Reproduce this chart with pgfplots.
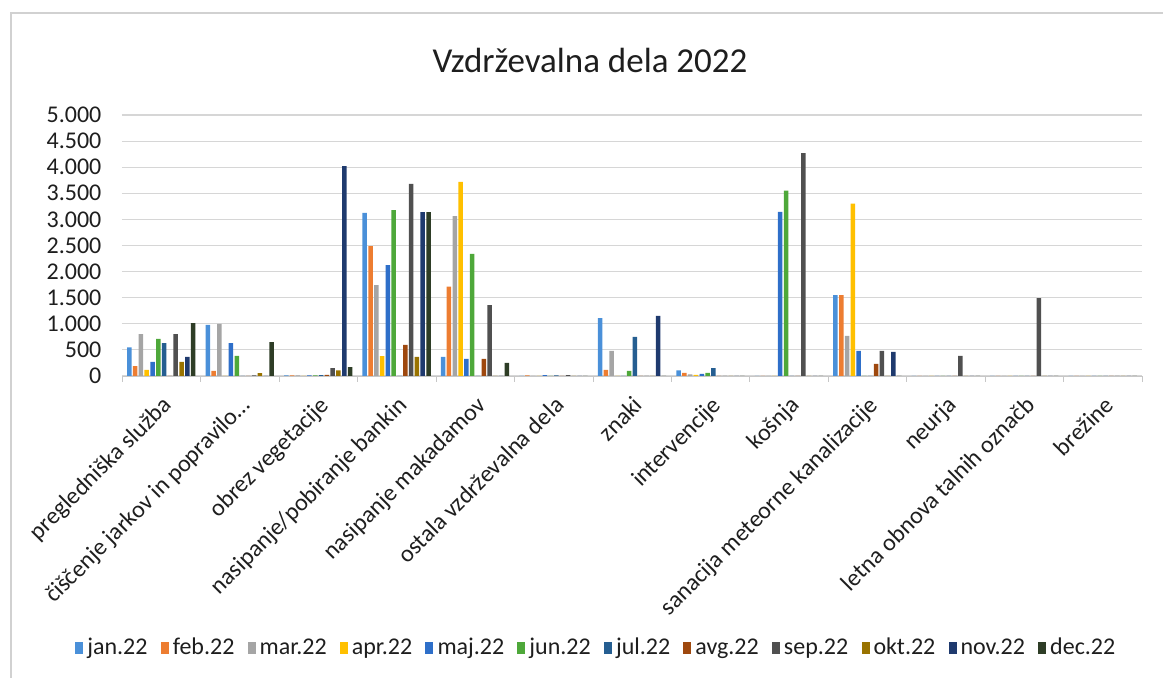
\documentclass[border=0pt]{standalone}
\usepackage{pgfplots}
\pgfplotsset{compat=1.18}
\usepackage{pgfplotstable}
\usepackage{fontspec}
\setmainfont{Carlito}
\definecolor{cjan}{HTML}{4A90D9}
\definecolor{cfeb}{HTML}{ED7D31}
\definecolor{cmar}{HTML}{A5A5A5}
\definecolor{capr}{HTML}{FFC000}
\definecolor{cmaj}{HTML}{2E6FC9}
\definecolor{cjun}{HTML}{4EA83A}
\definecolor{cjul}{HTML}{255E91}
\definecolor{cavg}{HTML}{9E480E}
\definecolor{csep}{HTML}{505050}
\definecolor{cokt}{HTML}{997300}
\definecolor{cnov}{HTML}{1F3A6E}
\definecolor{cdec}{HTML}{2E3D26}
\definecolor{txt}{HTML}{1E1E1E}
\pgfplotstableread{
x jan feb mar apr maj jun jul avg sep okt nov dec
0 550 190 800 115 270 710 630 0 800 270 365 1015
1 980 100 1000 0 630 385 0 0 10 55 0 650
2 10 10 10 0 10 10 15 20 150 110 4020 170
3 3125 2490 1740 380 2125 3180 0 595 3680 365 3140 3140
4 365 1710 3065 3720 330 2340 0 330 1360 0 0 250
5 0 10 0 0 15 0 10 0 15 0 0 0
6 1110 115 480 0 0 100 750 0 0 0 1150 0
7 110 60 30 20 40 60 150 0 0 0 0 0
8 0 0 0 0 3145 3550 0 0 4270 0 0 0
9 1550 1550 770 3300 480 0 0 230 480 0 460 0
10 0 0 0 0 0 0 0 0 385 0 0 0
11 0 0 0 0 0 0 0 0 1490 0 0 0
12 0 0 0 0 0 0 0 0 0 0 0 0
}\datatable
\begin{document}
\begin{tikzpicture}
\draw[black!18, line width=0.8pt] (-55.5pt,-151pt) -- (-55.5pt,181.5pt) -- (520.5pt,181.5pt);
\begin{axis}[
  at={(0,0)}, anchor=south west,
  scale only axis, width=510pt, height=130.5pt,
  ybar=0.65pt, bar width=2.25pt,
  xmin=-0.5, xmax=12.5, ymin=0, ymax=5000,
  xtick={0,...,12},
  xticklabels={pregledniška služba, čiščenje jarkov in popravilo…, obrez vegetacije, nasipanje/pobiranje bankin, nasipanje makadamov, ostala vzdrževalna dela, znaki, intervencije, košnja, sanacija meteorne kanalizacije, neurja, letna obnova talnih označb, brežine},
  minor xtick={-0.5,0.5,...,12.5},
  ytick={0,500,...,5000},
  /pgf/number format/assume math mode=true,
  /pgf/number format/1000 sep={.},
  axis x line=bottom, axis y line=left,
  axis line style={-},
  x axis line style={draw=black!22},
  y axis line style={draw=none},
  ymajorgrids, major grid style={draw=black!16, line width=0.6pt},
  major x tick style={draw=none},
  minor x tick style={draw=black!22},
  minor tick length=3pt, tick align=outside,
  ytick style={draw=none},
  yticklabel style={font=\fontsize{12}{13}\selectfont, text=txt, xshift=-2.5pt},
  xticklabel style={font=\fontsize{12}{14}\selectfont, text=txt, yshift=-3.5pt, rotate=45, anchor=north east, inner sep=1pt},
  legend style={at={(axis description cs:0.466,-1.042)}, anchor=center, draw=none, fill=none,
    font=\fontsize{12}{13}\selectfont, text=txt, legend columns=12,
    /tikz/every even column/.append style={column sep=4.6pt}},
  legend image code/.code={\fill[#1,draw=none] (0pt,-3pt) rectangle (4pt,3pt);},
  legend cell align=left,
]
\addplot[fill=cjan,draw=none] table[x=x,y=jan]{\datatable};
\addplot[fill=cfeb,draw=none] table[x=x,y=feb]{\datatable};
\addplot[fill=cmar,draw=none] table[x=x,y=mar]{\datatable};
\addplot[fill=capr,draw=none] table[x=x,y=apr]{\datatable};
\addplot[fill=cmaj,draw=none] table[x=x,y=maj]{\datatable};
\addplot[fill=cjun,draw=none] table[x=x,y=jun]{\datatable};
\addplot[fill=cjul,draw=none] table[x=x,y=jul]{\datatable};
\addplot[fill=cavg,draw=none] table[x=x,y=avg]{\datatable};
\addplot[fill=csep,draw=none] table[x=x,y=sep]{\datatable};
\addplot[fill=cokt,draw=none] table[x=x,y=okt]{\datatable};
\addplot[fill=cnov,draw=none] table[x=x,y=nov]{\datatable};
\addplot[fill=cdec,draw=none] table[x=x,y=dec]{\datatable};
\legend{jan.22,feb.22,mar.22,apr.22,maj.22,jun.22,jul.22,avg.22,sep.22,okt.22,nov.22,dec.22}
\end{axis}
\node[font=\fontsize{17.5}{20}\selectfont, text=txt] at (234pt,158pt) {Vzdrževalna dela 2022};
\pgfresetboundingbox
\useasboundingbox (-61pt,-151pt) rectangle (520.5pt,188pt);
\end{tikzpicture}
\end{document}
